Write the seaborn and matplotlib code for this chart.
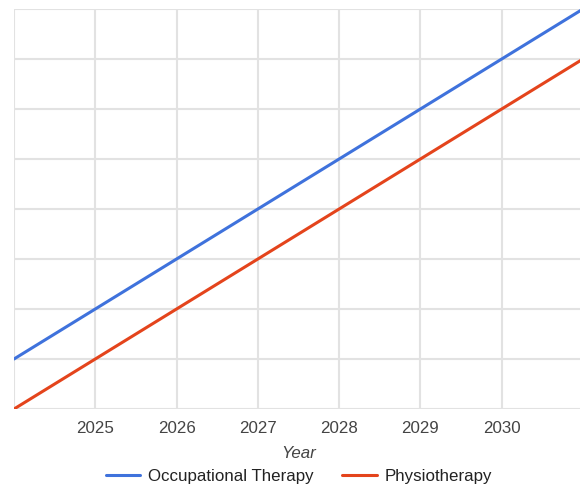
import pandas as pd
import matplotlib.pyplot as plt
import seaborn as sns

# data
years = [2024, 2025, 2026, 2027, 2028, 2029, 2030, 2031]
occupational = [1, 2, 3, 4, 5, 6, 7, 8]
physio = [0, 1, 2, 3, 4, 5, 6, 7]
series_names = ['Occupational Therapy', 'Physiotherapy']
tick_years = [2025, 2026, 2027, 2028, 2029, 2030]

df = pd.DataFrame({
    'Year': years * 2,
    'value': occupational + physio,
    'series': [series_names[0]] * len(years) + [series_names[1]] * len(years),
})

sns.set_style('white')
plt.rcParams['font.family'] = ['Liberation Sans', 'DejaVu Sans']

fig = plt.figure(figsize=(5.8, 4.89), dpi=100)
W, H = 580, 489
ax = fig.add_axes([14 / W, 1 - 410 / H, (583 - 14) / W, 400 / H])

palette = {series_names[0]: '#3f72dc', series_names[1]: '#e4441c'}
sns.lineplot(data=df, x='Year', y='value', hue='series', palette=palette,
             linewidth=2.2, ax=ax, legend=False)

fs = 12.2
ax.set_xlim(2024, 2031)
ax.set_ylim(0, 8)
ax.set_xticks(range(2024, 2032))
ax.set_xticklabels(['' if y not in tick_years else str(y) for y in range(2024, 2032)])
ax.set_yticks(range(0, 9))
ax.set_yticklabels([])
ax.grid(True, color='#e2e2e2', linewidth=1.5)
ax.set_axisbelow(True)
for s in ax.spines.values():
    s.set_visible(False)
ax.tick_params(axis='both', length=0, labelsize=fs, labelcolor='#444444', pad=8)
ax.set_xlabel('Year', fontsize=fs, style='italic', color='#444444', labelpad=7)
ax.set_ylabel('')

handles = [plt.Line2D([], [], color=palette[n], linewidth=2.2) for n in series_names]
fig.legend(handles, series_names, loc='center', bbox_to_anchor=(299 / W, 1 - 477 / H),
           ncol=2, frameon=False, fontsize=fs, handlelength=2.05, columnspacing=1.7,
           handletextpad=0.45, labelcolor='#222222')

fig.savefig('out.png', dpi=100)
